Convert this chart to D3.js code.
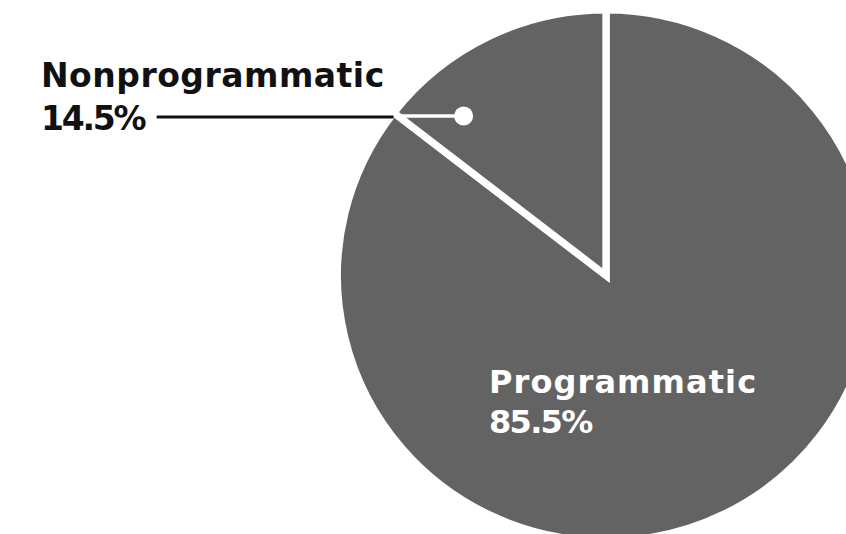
<!DOCTYPE html>
<html>
<head>
<meta charset="utf-8">
<script src="https://cdn.jsdelivr.net/npm/d3@7"></script>
<style>
  html, body { margin: 0; padding: 0; background: #fff; }
  svg { display: block; }
  text { font-family: "DejaVu Sans", sans-serif; font-weight: bold; }
</style>
</head>
<body>
<svg id="chart" width="846" height="534"></svg>
<script>
// Share of ad spending by buying method
const categories = ["Programmatic", "Nonprogrammatic"];
const shares = [85.5, 14.5];
const shareLabels = ["85.5%", "14.5%"];

const width = 846, height = 534;
const cx = 606, cy = 275.5, rx = 265, ry = 262;
const gap = 7.3;

const svg = d3.select("#chart");
// pie is drawn at radius rx and squashed slightly vertically
const g = svg.append("g")
  .attr("transform", `translate(${cx},${cy}) scale(1,${ry / rx})`);

const data = categories.map((c, i) => ({ name: c, value: shares[i], label: shareLabels[i] }));

const pie = d3.pie().sort(null).value(d => d.value);
// outer radius grows by half the separator so the white outline sits outside the visible disc
const arc = d3.arc().innerRadius(0).outerRadius(rx + gap / 2);
const arcs = pie(data);

g.selectAll("path.slice")
  .data(arcs)
  .join("path")
  .attr("class", "slice")
  .attr("d", arc)
  .attr("fill", "#636363")
  .attr("stroke", "#fff")
  .attr("stroke-width", gap)
  .attr("stroke-linejoin", "miter");

// Callout for the small slice: leader from the slice edge to a dot inside it
const small = arcs[1];
const edgeX = cx + Math.sin(small.startAngle) * rx;
const edgeY = cy - Math.cos(small.startAngle) * ry;
const dotX = edgeX + 67;

svg.append("line")
  .attr("x1", edgeX).attr("x2", dotX)
  .attr("y1", edgeY + 1).attr("y2", edgeY + 1)
  .attr("stroke", "#fff").attr("stroke-width", 3.5);
svg.append("circle")
  .attr("cx", dotX).attr("cy", edgeY + 1).attr("r", 9.5)
  .attr("fill", "#fff");

// Outside label for the small slice
const labelX = 41;
const smallLabel = svg.append("text")
  .attr("x", labelX).attr("y", 87)
  .attr("font-size", 33)
  .attr("fill", "#111");
smallLabel.append("tspan").attr("x", labelX)
  .attr("letter-spacing", 0.5).text(small.data.name);
const pct = smallLabel.append("tspan").attr("x", labelX).attr("dy", 43)
  .attr("letter-spacing", -2.2).text(small.data.label);

const pctBox = pct.node().getBBox();
svg.append("line")
  .attr("x1", pctBox.x + pctBox.width + 10).attr("x2", edgeX - 3)
  .attr("y1", edgeY + 2).attr("y2", edgeY + 2)
  .attr("stroke", "#111").attr("stroke-width", 3);

// Inside label for the large slice
const big = arcs[0];
const bigX = 489;
const bigLabel = svg.append("text")
  .attr("x", bigX).attr("y", 393)
  .attr("font-size", 32)
  .attr("fill", "#fff");
bigLabel.append("tspan").attr("x", bigX)
  .attr("letter-spacing", 1.1).text(big.data.name);
bigLabel.append("tspan").attr("x", bigX).attr("dy", 40)
  .attr("letter-spacing", -1.7).text(big.data.label);
</script>
</body>
</html>
